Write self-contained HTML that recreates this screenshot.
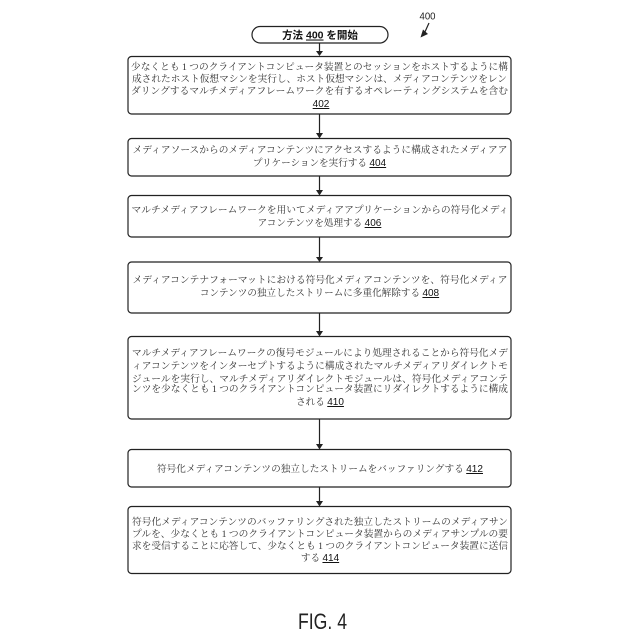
<!DOCTYPE html>
<html><head><meta charset="utf-8"><style>
html,body{margin:0;padding:0;background:#fff}
svg{display:block}
text{font-family:"Liberation Serif","Noto Serif CJK JP",serif;font-size:9.6px;fill:#333;text-anchor:middle}
.n{font-family:"Liberation Sans",sans-serif;font-size:10px;fill:#111;text-decoration:underline}
rect{fill:#fff;stroke:#222;stroke-width:1.2}
line{stroke:#222;stroke-width:1.2}
polygon{fill:#222}
</style></head><body>
<svg width="640" height="640" viewBox="0 0 640 640" xmlns="http://www.w3.org/2000/svg">
<rect x="252" y="26.500" width="136" height="16.500" rx="8.200"/>
<rect x="128" y="56.500" width="383" height="57.500" rx="3.500"/>
<rect x="128" y="138.500" width="383" height="37.500" rx="3.500"/>
<rect x="128" y="195.500" width="383" height="41.500" rx="3.500"/>
<rect x="128" y="262" width="383" height="51" rx="3.500"/>
<rect x="128" y="336.500" width="383" height="82.500" rx="3.500"/>
<rect x="128" y="449.500" width="383" height="37.500" rx="3.500"/>
<rect x="128" y="506.500" width="383" height="67" rx="3.500"/>
<line x1="319.500" y1="43" x2="319.500" y2="52"/><polygon points="316,51 323,51 319.500,56"/>
<line x1="319.500" y1="114" x2="319.500" y2="134"/><polygon points="316,133 323,133 319.500,138.500"/>
<line x1="319.500" y1="176" x2="319.500" y2="191"/><polygon points="316,190 323,190 319.500,195.500"/>
<line x1="319.500" y1="237" x2="319.500" y2="258"/><polygon points="316,257 323,257 319.500,262"/>
<line x1="319.500" y1="313" x2="319.500" y2="332"/><polygon points="316,331 323,331 319.500,336.500"/>
<line x1="319.500" y1="419" x2="319.500" y2="445"/><polygon points="316,444 323,444 319.500,449.500"/>
<line x1="319.500" y1="487" x2="319.500" y2="502"/><polygon points="316,501 323,501 319.500,506.500"/>
<text x="320" y="38.500" style="font-family:'Liberation Sans','Noto Sans CJK JP',sans-serif;font-size:10.500px;font-weight:700;fill:#111">方法 <tspan text-decoration="underline">400</tspan> を開始</text>
<text x="427.500" y="19.500" style="font-family:'Liberation Sans',sans-serif;font-size:10.500px;fill:#222" textLength="16" lengthAdjust="spacingAndGlyphs">400</text>
<line x1="429" y1="23" x2="424" y2="34"/><polygon points="420.500,37.500 428,34 423,29.500"/>

<text x="319.500" y="70" textLength="377" lengthAdjust="spacingAndGlyphs">少なくとも 1 つのクライアントコンピュータ装置とのセッションをホストするように構</text>
<text x="319.500" y="82" textLength="375" lengthAdjust="spacingAndGlyphs">成されたホスト仮想マシンを実行し、ホスト仮想マシンは、メディアコンテンツをレン</text>
<text x="319.500" y="94" textLength="377" lengthAdjust="spacingAndGlyphs">ダリングするマルチメディアフレームワークを有するオペレーティングシステムを含む</text>
<text x="321" y="107" class="n">402</text>

<text x="320" y="153" textLength="375" lengthAdjust="spacingAndGlyphs">メディアソースからのメディアコンテンツにアクセスするように構成されたメディアア</text>
<text x="319.500" y="166">プリケーションを実行する <tspan class="n">404</tspan></text>

<text x="320" y="213" textLength="377" lengthAdjust="spacingAndGlyphs">マルチメディアフレームワークを用いてメディアアプリケーションからの符号化メディ</text>
<text x="319.500" y="226">アコンテンツを処理する <tspan class="n">406</tspan></text>

<text x="320" y="283" textLength="375" lengthAdjust="spacingAndGlyphs">メディアコンテナフォーマットにおける符号化メディアコンテンツを、符号化メディア</text>
<text x="319.500" y="296">コンテンツの独立したストリームに多重化解除する <tspan class="n">408</tspan></text>

<text x="320" y="356" textLength="376" lengthAdjust="spacingAndGlyphs">マルチメディアフレームワークの復号モジュールにより処理されることから符号化メデ</text>
<text x="320" y="369" textLength="376" lengthAdjust="spacingAndGlyphs">ィアコンテンツをインターセプトするように構成されたマルチメディアリダイレクトモ</text>
<text x="320" y="382" textLength="376" lengthAdjust="spacingAndGlyphs">ジュールを実行し、マルチメディアリダイレクトモジュールは、符号化メディアコンテ</text>
<text x="320" y="392" textLength="376" lengthAdjust="spacingAndGlyphs">ンツを少なくとも 1 つのクライアントコンピュータ装置にリダイレクトするように構成</text>
<text x="320" y="405">される <tspan class="n">410</tspan></text>

<text x="320" y="472" textLength="326" lengthAdjust="spacingAndGlyphs">符号化メディアコンテンツの独立したストリームをバッファリングする <tspan class="n">412</tspan></text>

<text x="320" y="525" textLength="376" lengthAdjust="spacingAndGlyphs">符号化メディアコンテンツのバッファリングされた独立したストリームのメディアサン</text>
<text x="320" y="537" textLength="376" lengthAdjust="spacingAndGlyphs">プルを、少なくとも 1 つのクライアントコンピュータ装置からのメディアサンプルの要</text>
<text x="320" y="549" textLength="376" lengthAdjust="spacingAndGlyphs">求を受信することに応答して、少なくとも 1 つのクライアントコンピュータ装置に送信</text>
<text x="320" y="561">する <tspan class="n">414</tspan></text>

<text x="322.500" y="629" style="font-family:'Liberation Sans',sans-serif;font-size:22px;fill:#222" textLength="49" lengthAdjust="spacingAndGlyphs">FIG. 4</text>
</svg>
</body></html>
